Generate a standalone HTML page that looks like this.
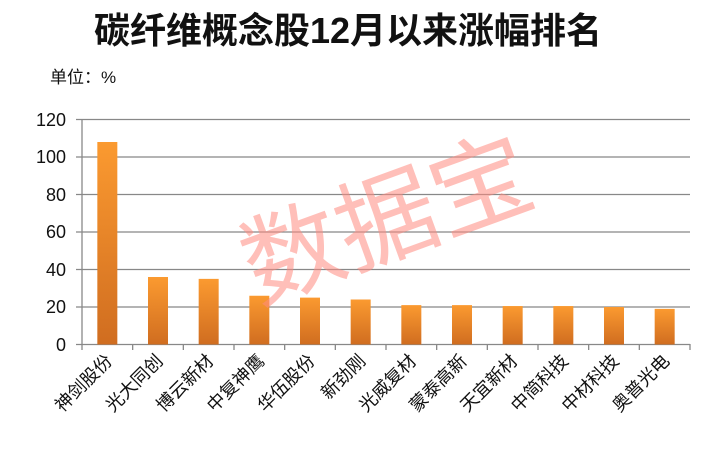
<!DOCTYPE html>
<html><head><meta charset="utf-8"><style>
body{margin:0;background:#fff;}
svg{display:block;font-family:"Liberation Sans","Noto Sans CJK SC",sans-serif;}
</style></head><body>
<svg width="704" height="454" xmlns="http://www.w3.org/2000/svg">
<defs><linearGradient id="g" x1="0" y1="0" x2="0" y2="1"><stop offset="0" stop-color="#fb9a30"/><stop offset="1" stop-color="#d06d20"/></linearGradient></defs>
<text x="348" y="43" text-anchor="middle" font-size="36" font-weight="bold" fill="#111">碳纤维概念股12月以来涨幅排名</text>
<text x="50" y="83" font-size="17" fill="#111">单位：%</text>
<g stroke="#888" stroke-width="1.3">
<line x1="76" y1="119.5" x2="690" y2="119.5"/><line x1="76" y1="157" x2="690" y2="157"/><line x1="76" y1="194.5" x2="690" y2="194.5"/><line x1="76" y1="232" x2="690" y2="232"/><line x1="76" y1="269.5" x2="690" y2="269.5"/><line x1="76" y1="307" x2="690" y2="307"/><line x1="76" y1="344.5" x2="690" y2="344.5"/>
<line x1="82" y1="119" x2="82" y2="350"/>
<line x1="132.67" y1="344" x2="132.67" y2="350"/><line x1="183.33" y1="344" x2="183.33" y2="350"/><line x1="234" y1="344" x2="234" y2="350"/><line x1="284.67" y1="344" x2="284.67" y2="350"/><line x1="335.33" y1="344" x2="335.33" y2="350"/><line x1="386" y1="344" x2="386" y2="350"/><line x1="436.67" y1="344" x2="436.67" y2="350"/><line x1="487.33" y1="344" x2="487.33" y2="350"/><line x1="538" y1="344" x2="538" y2="350"/><line x1="588.67" y1="344" x2="588.67" y2="350"/><line x1="639.33" y1="344" x2="639.33" y2="350"/><line x1="690" y1="344" x2="690" y2="350"/>
</g>
<g font-size="18" fill="#111" text-anchor="end">
<text x="66" y="126">120</text><text x="66" y="163">100</text><text x="66" y="201">80</text><text x="66" y="238">60</text><text x="66" y="276">40</text><text x="66" y="313">20</text><text x="66" y="351">0</text>
</g>
<g fill="url(#g)">
<rect x="97.33" y="142" width="20" height="202.5"/>
<rect x="148" y="277" width="20" height="67.5"/>
<rect x="198.67" y="278.87" width="20" height="65.63"/>
<rect x="249.33" y="295.75" width="20" height="48.75"/>
<rect x="300" y="297.62" width="20" height="46.88"/>
<rect x="350.67" y="299.5" width="20" height="45"/>
<rect x="401.33" y="305.12" width="20" height="39.38"/>
<rect x="452" y="305.12" width="20" height="39.38"/>
<rect x="502.67" y="306.06" width="20" height="38.44"/>
<rect x="553.33" y="306.06" width="20" height="38.44"/>
<rect x="604" y="307" width="20" height="37.5"/>
<rect x="654.67" y="308.87" width="20" height="35.63"/>
</g>
<g font-size="18" fill="#111" text-anchor="end">
<text x="113.33" y="362" transform="rotate(-45 113.33 362)">神剑股份</text>
<text x="164" y="362" transform="rotate(-45 164 362)">光大同创</text>
<text x="214.67" y="362" transform="rotate(-45 214.67 362)">博云新材</text>
<text x="265.33" y="362" transform="rotate(-45 265.33 362)">中复神鹰</text>
<text x="316" y="362" transform="rotate(-45 316 362)">华伍股份</text>
<text x="366.67" y="362" transform="rotate(-45 366.67 362)">新劲刚</text>
<text x="417.33" y="362" transform="rotate(-45 417.33 362)">光威复材</text>
<text x="468" y="362" transform="rotate(-45 468 362)">蒙泰高新</text>
<text x="518.67" y="362" transform="rotate(-45 518.67 362)">天宜新材</text>
<text x="569.33" y="362" transform="rotate(-45 569.33 362)">中简科技</text>
<text x="620" y="362" transform="rotate(-45 620 362)">中材科技</text>
<text x="670.67" y="362" transform="rotate(-45 670.67 362)">奥普光电</text>
</g>
<text x="385" y="255" font-size="100" fill="#ff8a80" fill-opacity="0.55" text-anchor="middle" transform="rotate(-20 385 215)" font-family="'Noto Sans CJK SC',sans-serif">数据宝</text>
</svg>
</body></html>
